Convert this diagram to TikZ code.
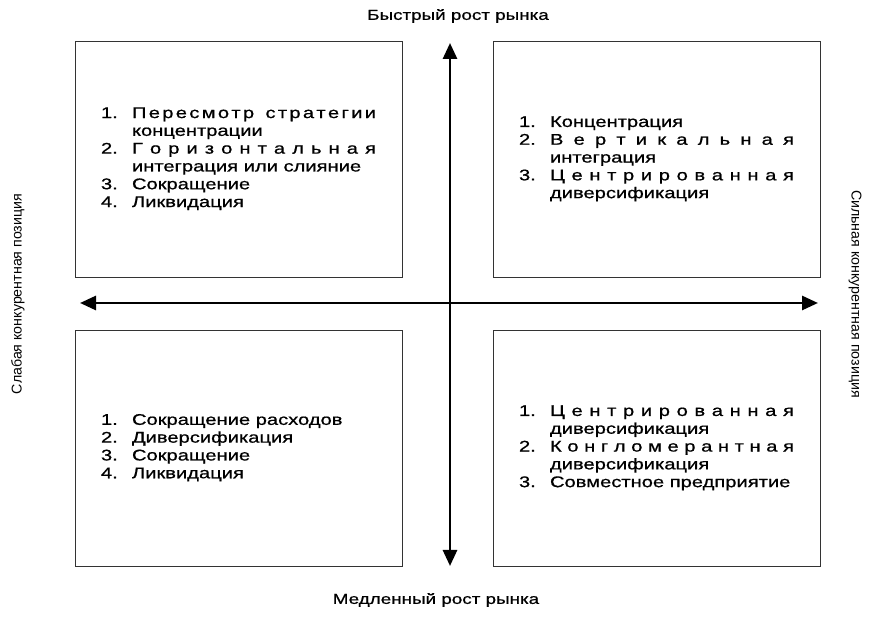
\documentclass[tikz,border=0pt]{standalone}
\usepackage{fontspec}
\setmainfont{Liberation Sans}
\newfontfamily\widefont[FakeStretch=1.3,FakeBold=0.8]{Liberation Sans}
\usetikzlibrary{arrows.meta}
\newcommand{\spreadline}[1]{\makebox[244pt][s]{\spaceskip=0pt plus 1fil\relax #1}}
\begin{document}
\begin{tikzpicture}[x=1pt,y=1pt,
    quadrant/.style={draw=black!80, line width=0.9pt, minimum width=327pt, minimum height=236pt, inner sep=0pt,
        font=\widefont\fontsize{15.5}{17.8}\selectfont},
    axis/.style={line width=2.8pt, -{Triangle[length=16pt,width=14pt]}},
    axislabel/.style={font=\widefont\fontsize{14.5}{16}\selectfont},
    sidelabel/.style={font=\fontsize{14.2}{16}\selectfont}]
    \useasboundingbox (0,0) rectangle (869,617);
    % quadrants
    \node[quadrant] (tl) at (238.5,458) {\begin{tabular}{@{}p{31pt}@{}l@{}}
        1. & \spreadline{П е р е с м о т р\hspace{9pt} с т р а т е г и и}\\
           & концентрации\\
        2. & \spreadline{Г о р и з о н т а л ь н а я}\\
           & интеграция или слияние\\
        3. & Сокращение\\
        4. & Ликвидация
    \end{tabular}};
    \node[quadrant] (tr) at (656.5,458) {\begin{tabular}{@{}p{31pt}@{}l@{}}
        1. & \makebox[244pt][l]{Концентрация}\\
        2. & \spreadline{В е р т и к а л ь н а я}\\
           & интеграция\\
        3. & \spreadline{Ц е н т р и р о в а н н а я}\\
           & диверсификация
    \end{tabular}};
    \node[quadrant] (bl) at (238.5,169) {\begin{tabular}{@{}p{31pt}@{}l@{}}
        1. & \makebox[244pt][l]{Сокращение расходов}\\
        2. & Диверсификация\\
        3. & Сокращение\\
        4. & Ликвидация
    \end{tabular}};
    \node[quadrant] (br) at (656.5,169) {\begin{tabular}{@{}p{31pt}@{}l@{}}
        1. & \spreadline{Ц е н т р и р о в а н н а я}\\
           & диверсификация\\
        2. & \spreadline{К о н г л о м е р а н т н а я}\\
           & диверсификация\\
        3. & Совместное предприятие
    \end{tabular}};
    % axes
    \coordinate (o) at (450,314);
    \coordinate (west) at (80,314);
    \coordinate (east) at (818,314);
    \coordinate (north) at (450,574);
    \coordinate (south) at (450,51);
    \draw[axis] (o) -- (east);
    \draw[axis] (o) -- (west);
    \draw[axis] (o) -- (north);
    \draw[axis] (o) -- (south);
    % labels
    \node[axislabel] (fast) at (458,601) {Быстрый рост рынка};
    \node[axislabel] (slow) at (436,17) {Медленный рост рынка};
    \node[sidelabel, rotate=90] (weak) at (18,323) {Слабая конкурентная позиция};
    \node[sidelabel, rotate=-90] (strong) at (855,323) {Сильная конкурентная позиция};
\end{tikzpicture}
\end{document}
